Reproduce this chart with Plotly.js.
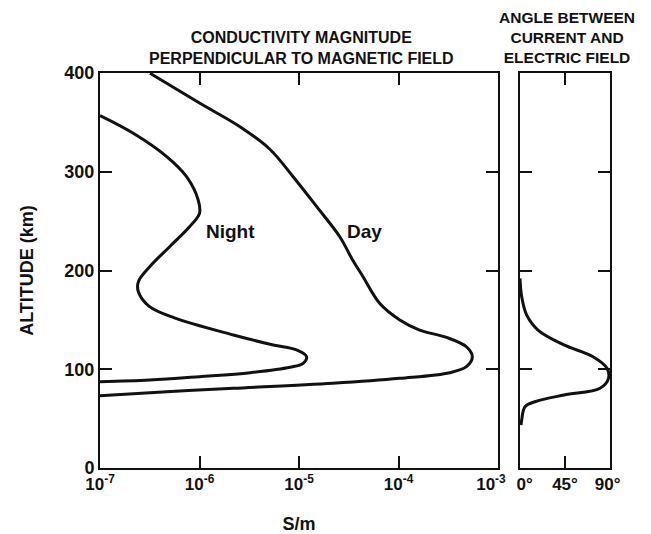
<!DOCTYPE html>
<html>
<head>
<meta charset="utf-8">
<script src="https://cdn.plot.ly/plotly-3.0.1.min.js"></script>
<style>html,body{margin:0;padding:0;background:#fff;}#chart{width:651px;height:534px;}</style>
</head>
<body>
<div id="chart"></div>
<script>
// Day conductivity profile (altitude km, conductivity S/m)
const dayAltitude = [399.7, 369.3, 345.6, 322.8, 295, 264.9, 234.2, 212, 193.7, 166.8, 149.9, 139.7, 132.3, 122.8, 112.7, 102.6, 96.5, 90.8, 85.8, 80.7, 77.3, 73.2];
const daySigma = [3.18e-7, 1.01e-6, 2.55e-6, 5.09e-6, 8.73e-6, 1.5e-5, 2.57e-5, 3.4e-5, 4.4e-5, 6.46e-5, 1.03e-4, 1.63e-4, 3.03e-4, 4.81e-4, 5.52e-4, 4.81e-4, 3.27e-4, 1.03e-4, 2.19e-5, 2.19e-6, 4.68e-7, 1e-7];
// Night conductivity profile
const nightAltitude = [356.8, 338.9, 315.3, 295, 271.4, 257.9, 244.3, 224.1, 203.9, 188.7, 178.5, 164, 152, 134.7, 124.6, 119.5, 112.7, 106, 102, 96.5, 92.5, 89.1, 87.4];
const nightSigma = [1e-7, 2.16e-7, 4.68e-7, 7.41e-7, 9.7e-7, 1.0e-6, 7.94e-7, 5.01e-7, 3.16e-7, 2.43e-7, 2.43e-7, 3.1e-7, 5.6e-7, 2.19e-6, 5.5e-6, 9.44e-6, 1.19e-5, 1.1e-5, 8.13e-6, 3.24e-6, 1.0e-6, 3.16e-7, 1e-7];
// Angle between current and electric field (altitude km, degrees)
const angleAltitude = [192, 173.5, 155, 139.7, 124.6, 112.7, 101, 90.8, 80.7, 73.9, 67.1, 62, 48.6, 43.5];
const angleDeg = [0, 1.7, 6.6, 18, 44, 73, 87, 88.5, 80, 44, 15, 5, 1.7, 1];

const sigmaTicks = [1e-7, 1e-6, 1e-5, 1e-4, 1e-3];
const sigmaTickText = ['10<sup>-7</sup>', '10<sup>-6</sup>', '10<sup>-5</sup>', '10<sup>-4</sup>', '10<sup>-3</sup>\u00a0\u00a0\u00a0'];
const angleTicks = [0, 45, 90];
const angleTickText = ['\u00a0\u00a00°', '45°', '90°\u00a0'];
const altTicks = [0, 100, 200, 300, 400];

const FONT = 'Liberation Sans, Arial, sans-serif';
const INK = '#111';

const lineStyle = {color: INK, width: 3, shape: 'spline', smoothing: 1.0};

const traces = [
  {x: daySigma, y: dayAltitude, xaxis: 'x', yaxis: 'y', mode: 'lines', line: lineStyle, name: 'Day', hoverinfo: 'skip'},
  {x: nightSigma, y: nightAltitude, xaxis: 'x', yaxis: 'y', mode: 'lines', line: lineStyle, name: 'Night', hoverinfo: 'skip'},
  {x: angleDeg, y: angleAltitude, xaxis: 'x2', yaxis: 'y2', mode: 'lines', line: lineStyle, name: 'Angle', hoverinfo: 'skip'}
];

const axisCommon = {
  showline: true, linecolor: INK, linewidth: 2, mirror: 'ticks',
  ticks: 'inside', ticklen: 12, tickwidth: 2, tickcolor: INK,
  showgrid: false, zeroline: false,
  tickfont: {family: FONT, size: 17, color: INK, weight: 'bold'}
};

const layout = {
  width: 651, height: 534,
  margin: {l: 100, r: 41, t: 73, b: 66, pad: 0},
  paper_bgcolor: '#fff', plot_bgcolor: '#fff',
  showlegend: false,
  font: {family: FONT, color: INK},
  xaxis: Object.assign({}, axisCommon, {
    type: 'log', range: [-7, -3], domain: [0, 0.7804], anchor: 'y',
    tickmode: 'array', tickvals: sigmaTicks, ticktext: sigmaTickText,
    title: {text: 'S/m', font: {family: FONT, size: 18, color: INK, weight: 'bold'}, standoff: 30}
  }),
  yaxis: Object.assign({}, axisCommon, {
    range: [0, 400], domain: [0, 1], anchor: 'x',
    tickmode: 'array', tickvals: altTicks,
    tickfont: {family: FONT, size: 18, color: INK, weight: 'bold'},
    title: {text: 'ALTITUDE (km)', font: {family: FONT, size: 18, color: INK, weight: 'bold'}, standoff: 26}
  }),
  xaxis2: Object.assign({}, axisCommon, {
    range: [0, 90], domain: [0.8235, 1], anchor: 'y2',
    tickmode: 'array', tickvals: angleTicks, ticktext: angleTickText
  }),
  yaxis2: Object.assign({}, axisCommon, {
    range: [0, 400], domain: [0, 1], anchor: 'x2', matches: 'y',
    tickmode: 'array', tickvals: altTicks, showticklabels: false
  }),
  annotations: [
    {text: 'CONDUCTIVITY MAGNITUDE<br>PERPENDICULAR TO MAGNETIC FIELD', xref: 'paper', yref: 'paper',
     x: (301 - 100) / 510, y: (534 - 66 - 48) / 395, xanchor: 'center', yanchor: 'middle', showarrow: false,
     font: {family: FONT, size: 16, color: INK, weight: 'bold'}, align: 'center'},
    {text: 'ANGLE BETWEEN<br>CURRENT AND<br>ELECTRIC FIELD', xref: 'paper', yref: 'paper',
     x: (567 - 100) / 510, y: (534 - 66 - 38) / 395, xanchor: 'center', yanchor: 'middle', showarrow: false,
     font: {family: FONT, size: 15.5, color: INK, weight: 'bold'}, align: 'center'},
    {text: 'Night', xref: 'x', yref: 'y', x: Math.log10(2.05e-6), y: 240, xanchor: 'center', yanchor: 'middle',
     showarrow: false, font: {family: FONT, size: 19, color: INK, weight: 'bold'}},
    {text: 'Day', xref: 'x', yref: 'y', x: Math.log10(4.6e-5), y: 240, xanchor: 'center', yanchor: 'middle',
     showarrow: false, font: {family: FONT, size: 19, color: INK, weight: 'bold'}}
  ]
};

Plotly.newPlot('chart', traces, layout, {staticPlot: true, displayModeBar: false});
</script>
</body>
</html>
